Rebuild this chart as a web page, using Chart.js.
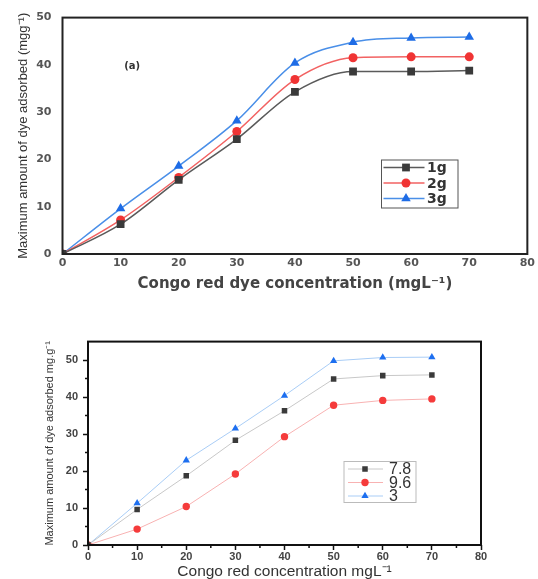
<!DOCTYPE html>
<html>
<head>
<meta charset="utf-8">
<script src="https://cdn.jsdelivr.net/npm/chart.js@4.4.0/dist/chart.umd.min.js"></script>
<style>
    html, body { margin: 0; padding: 0; background: #fff; overflow: hidden; }
    body { width: 538px; height: 579px; position: relative; }
    .plot { position: absolute; left: 0; }
</style>
</head>
<body>
<div class="plot" style="top:0"><canvas id="doseChart" width="538" height="300"></canvas></div>
<div class="plot" style="top:330px"><canvas id="phChart" width="538" height="262"></canvas></div>
<script>
// adsorbent dose series (upper figure)
var concDose = [0, 10, 20, 30, 40, 50, 60, 70];
var dose1g = [0, 6.3, 15.7, 24.3, 34.3, 38.6, 38.6, 38.8];
var dose2g = [0, 7.2, 16.2, 25.9, 36.9, 41.5, 41.7, 41.7];
var dose3g = [0, 9.6, 18.6, 28.2, 40.4, 44.8, 45.7, 45.9];
var doseLabels = ["1g", "2g", "3g"];

// pH series (lower figure)
var concPh = [0, 10, 20, 30, 40, 50, 60, 70];
var ph78 = [0, 9.6, 18.7, 28.3, 36.3, 44.9, 45.8, 46.0];
var ph96 = [0, 4.3, 10.4, 19.2, 29.3, 37.8, 39.1, 39.5];
var ph3 = [0, 11.3, 22.9, 31.5, 40.4, 49.8, 50.7, 50.8];
var phLabels = ["7.8", "9.6", "3"];

function toPoints(xs, ys) {
    return xs.map(function (x, i) { return {x: x, y: ys[i]}; });
}

function drawMarker(ctx, style, radius, x, y) {
    if (Chart.helpers && Chart.helpers.drawPoint) {
        Chart.helpers.drawPoint(ctx, {pointStyle: style, radius: radius, rotation: 0, borderWidth: 0}, x, y);
        return;
    }
    ctx.beginPath();
    if (style === 'rect') {
        var s = radius * Math.SQRT1_2;
        ctx.rect(x - s, y - s, 2 * s, 2 * s);
    } else if (style === 'triangle') {
        ctx.moveTo(x, y - radius);
        ctx.lineTo(x + radius * 0.866, y + radius * 0.5);
        ctx.lineTo(x - radius * 0.866, y + radius * 0.5);
        ctx.closePath();
    } else {
        ctx.arc(x, y, radius, 0, Math.PI * 2);
    }
    ctx.fill();
}

// closed box around the plot area
var frameBox = {
    id: 'frameBox',
    afterDraw: function (chart, args, opts) {
        var a = chart.chartArea, ctx = chart.ctx;
        ctx.save();
        ctx.strokeStyle = opts.color;
        ctx.lineWidth = opts.width;
        ctx.strokeRect(a.left, a.top, a.right - a.left, a.bottom - a.top);
        ctx.restore();
    }
};

// short minor ticks between the labelled ones
var minorTicks = {
    id: 'minorTicks',
    afterDraw: function (chart, args, opts) {
        if (!opts.x) return;
        var ctx = chart.ctx, a = chart.chartArea;
        ctx.save();
        ctx.strokeStyle = '#111';
        ctx.lineWidth = 1.5;
        ctx.beginPath();
        opts.x.forEach(function (v) {
            var px = chart.scales.x.getPixelForValue(v);
            ctx.moveTo(px, a.bottom);
            ctx.lineTo(px, a.bottom + opts.len);
        });
        opts.y.forEach(function (v) {
            var py = chart.scales.y.getPixelForValue(v);
            ctx.moveTo(a.left, py);
            ctx.lineTo(a.left - opts.len, py);
        });
        ctx.stroke();
        ctx.restore();
    }
};

// boxed legend: line + marker + label per dataset
var boxLegend = {
    id: 'boxLegend',
    afterDraw: function (chart, args, o) {
        if (!o.x) return;
        var ctx = chart.ctx;
        ctx.save();
        ctx.strokeStyle = o.border;
        ctx.lineWidth = 1;
        ctx.strokeRect(o.x, o.y, o.w, o.h);
        ctx.font = o.font;
        ctx.textBaseline = 'middle';
        chart.data.datasets.forEach(function (ds, i) {
            var y = o.y + o.first + i * o.row;
            ctx.strokeStyle = ds.borderColor;
            ctx.lineWidth = ds.borderWidth;
            ctx.beginPath();
            ctx.moveTo(o.x + o.lineFrom, y);
            ctx.lineTo(o.x + o.lineTo, y);
            ctx.stroke();
            ctx.fillStyle = ds.pointBackgroundColor;
            drawMarker(ctx, ds.pointStyle, ds.pointRadius, o.x + o.marker, y);
            ctx.fillStyle = o.textColor;
            ctx.fillText(ds.label, o.x + o.text, y + 1);
        });
        ctx.restore();
    }
};

// "(a)" panel tag
var panelTag = {
    id: 'panelTag',
    afterDraw: function (chart, args, o) {
        if (!o.text) return;
        var ctx = chart.ctx;
        ctx.save();
        ctx.font = o.font;
        ctx.fillStyle = '#333';
        ctx.textAlign = 'center';
        ctx.textBaseline = 'middle';
        ctx.fillText(o.text, chart.scales.x.getPixelForValue(o.xv), chart.scales.y.getPixelForValue(o.yv));
        ctx.restore();
    }
};

function series(label, xs, ys, line, marker, style, radius, width, smooth) {
    return {
        label: label,
        data: toPoints(xs, ys),
        borderColor: line,
        borderWidth: width,
        pointStyle: style,
        pointRadius: radius,
        pointHoverRadius: radius,
        pointBackgroundColor: marker,
        pointBorderColor: marker,
        pointBorderWidth: 0,
        cubicInterpolationMode: smooth ? 'monotone' : 'default',
        tension: 0,
        fill: false
    };
}

var topTick = {family: 'DejaVu Sans', size: 11, weight: 'bold'};

new Chart(document.getElementById('doseChart'), {
    type: 'line',
    data: {
        datasets: [
            series(doseLabels[0], concDose, dose1g, '#5a5a5a', '#3a3a3a', 'rect', 5.5, 1.5, true),
            series(doseLabels[1], concDose, dose2g, '#f26262', '#f03434', 'circle', 4.5, 1.5, true),
            series(doseLabels[2], concDose, dose3g, '#4a8fe8', '#1e6ce6', 'triangle', 5.5, 1.5, true)
        ]
    },
    options: {
        responsive: false,
        animation: false,
        layout: {padding: {top: 15, right: 7.5, left: 0, bottom: 0}},
        scales: {
            x: {
                type: 'linear', min: 0, max: 80,
                ticks: {stepSize: 10, font: topTick, color: '#555', padding: 3, maxRotation: 0},
                grid: {display: false, drawTicks: false},
                border: {display: false},
                title: {
                    display: true,
                    text: 'Congo red dye concentration (mgL\u207B\u00B9)',
                    font: {family: 'DejaVu Sans', size: 15, weight: 'bold'},
                    color: '#444',
                    padding: {top: 0, bottom: 7}
                },
                afterFit: function (s) { s.height = 46; }
            },
            y: {
                min: 0, max: 50,
                ticks: {stepSize: 10, font: topTick, color: '#555', padding: 11},
                grid: {display: false, drawTicks: false},
                border: {display: false},
                title: {
                    display: true,
                    text: 'Maximum amount of dye adsorbed (mgg\u207B\u00B9)',
                    font: {family: "'Liberation Sans Narrow', 'Liberation Sans'", size: 13},
                    color: '#333',
                    padding: {top: 15.2, bottom: 0}
                },
                afterFit: function (s) { s.width = 62.5; }
            }
        },
        plugins: {
            legend: {display: false},
            tooltip: {enabled: false},
            frameBox: {color: '#222', width: 2},
            boxLegend: {
                x: 381.5, y: 160, w: 76.5, h: 48, first: 7.5, row: 15.5,
                lineFrom: 2, lineTo: 43, marker: 24.5, text: 45.5,
                font: 'bold 14px DejaVu Sans', textColor: '#333', border: '#555'
            },
            panelTag: {text: '(a)', xv: 12, yv: 39.7, font: 'bold 10px DejaVu Sans'}
        }
    },
    plugins: [frameBox, boxLegend, panelTag]
});

var lowTick = {family: 'Liberation Sans', size: 11, weight: 'bold'};

new Chart(document.getElementById('phChart'), {
    type: 'line',
    data: {
        datasets: [
            series(phLabels[0], concPh, ph78, '#c8c8c8', '#3a3a3a', 'rect', 3.9, 1, false),
            series(phLabels[1], concPh, ph96, '#f8b2b2', '#f53b3b', 'circle', 3.7, 1, false),
            series(phLabels[2], concPh, ph3, '#a9cdf6', '#1d6ff0', 'triangle', 4.2, 1, false)
        ]
    },
    options: {
        responsive: false,
        animation: false,
        layout: {padding: {top: 10, right: 57, left: 0, bottom: 0}},
        scales: {
            x: {
                type: 'linear', min: 0, max: 80,
                ticks: {stepSize: 10, font: lowTick, color: '#444', padding: 0, maxRotation: 0},
                grid: {display: true, drawOnChartArea: false, drawTicks: true, tickLength: 5, color: '#111', tickWidth: 1.5},
                border: {display: false},
                title: {
                    display: true,
                    text: 'Congo red concentration mgL\u207B\u00B9',
                    font: {family: 'Liberation Sans', size: 15.5},
                    color: '#333',
                    padding: {top: 0, bottom: 10.7}
                },
                afterFit: function (s) { s.height = 47; }
            },
            y: {
                min: 0, max: 55,
                ticks: {stepSize: 10, font: lowTick, color: '#444', padding: 5},
                afterBuildTicks: function (s) {
                    s.ticks = s.ticks.filter(function (t) { return t.value % 10 === 0; });
                },
                grid: {display: true, drawOnChartArea: false, drawTicks: true, tickLength: 5, color: '#111', tickWidth: 1.5},
                border: {display: false},
                title: {
                    display: true,
                    text: 'Maximum amount of dye adsorbed mg.g\u207B\u00B9',
                    font: {family: 'Liberation Sans', size: 11},
                    color: '#333',
                    padding: {top: 43.4, bottom: 0}
                },
                afterFit: function (s) { s.width = 88; }
            }
        },
        plugins: {
            legend: {display: false},
            tooltip: {enabled: false},
            frameBox: {color: '#111', width: 2},
            minorTicks: {x: [5, 15, 25, 35, 45, 55, 65, 75], y: [5, 15, 25, 35, 45], len: 3},
            boxLegend: {
                x: 344, y: 131.5, w: 72, h: 41, first: 7.5, row: 13.5,
                lineFrom: 4, lineTo: 39, marker: 21, text: 45,
                font: '16px Liberation Sans', textColor: '#333', border: '#bbb'
            }
        }
    },
    plugins: [frameBox, minorTicks, boxLegend]
});
</script>
</body>
</html>
